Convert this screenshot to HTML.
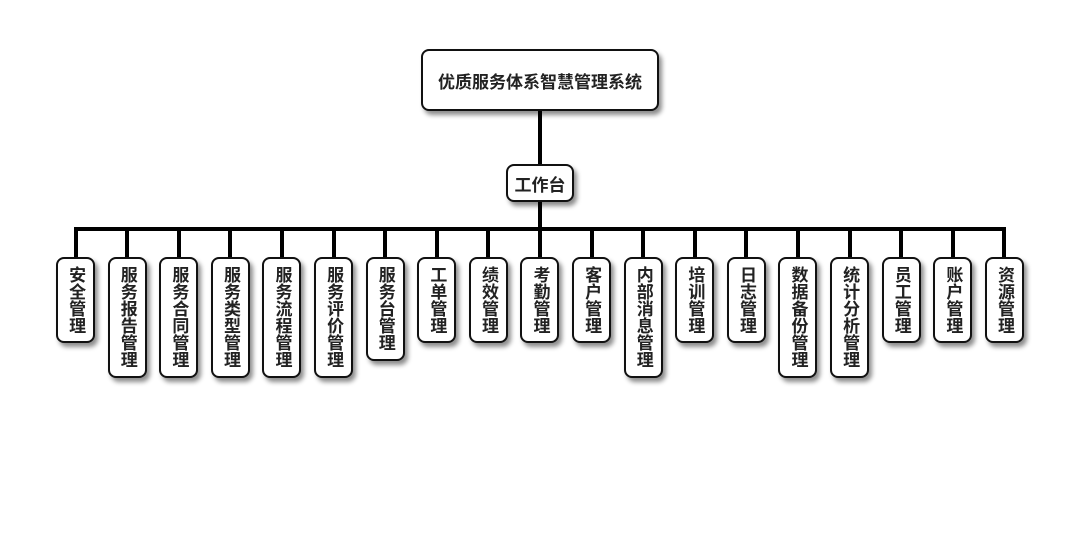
<!DOCTYPE html>
<html><head><meta charset="utf-8"><style>
body{margin:0;width:1080px;height:560px;background:#fff;position:relative;overflow:hidden;font-family:"Liberation Sans","Noto Sans CJK SC",sans-serif;font-weight:bold;color:#222}
.b{position:absolute;background:#fff;border:2px solid #111;border-radius:8px;box-shadow:3px 4px 5px rgba(0,0,0,.45);box-sizing:border-box;display:flex;align-items:center;justify-content:center;text-align:center}
.v{width:39px;top:257px;font-size:17px;line-height:17.3px;writing-mode:vertical-rl;letter-spacing:0;padding:0}
.l{position:absolute;background:#000}
</style></head><body>
<div class="l" style="left:538px;top:110px;width:4px;height:56px"></div>
<div class="l" style="left:538px;top:200px;width:4px;height:30px"></div>
<div class="l" style="left:74px;top:227px;width:932px;height:4px"></div>
<div class="b" style="left:421px;top:49px;width:238px;height:62px;font-size:17px">优质服务体系智慧管理系统</div>
<div class="b" style="left:506px;top:164px;width:68px;height:38px;font-size:17px">工作台</div>
<div id="c"></div>
<script>
var n=["安全管理","服务报告管理","服务合同管理","服务类型管理","服务流程管理","服务评价管理","服务台管理","工单管理","绩效管理","考勤管理","客户管理","内部消息管理","培训管理","日志管理","数据备份管理","统计分析管理","员工管理","账户管理","资源管理"];
var h="";
for(var i=0;i<n.length;i++){var cx=75.5+i*51.6;var len=n[i].length;var H=len*17.3+17;
h+='<div class="l" style="left:'+(cx-2)+'px;top:229px;width:4px;height:29px"></div>';
h+='<div class="b v" style="left:'+(cx-19.5)+'px;height:'+H+'px">'+n[i]+'</div>';}
document.getElementById("c").innerHTML=h;
</script>
</body></html>
